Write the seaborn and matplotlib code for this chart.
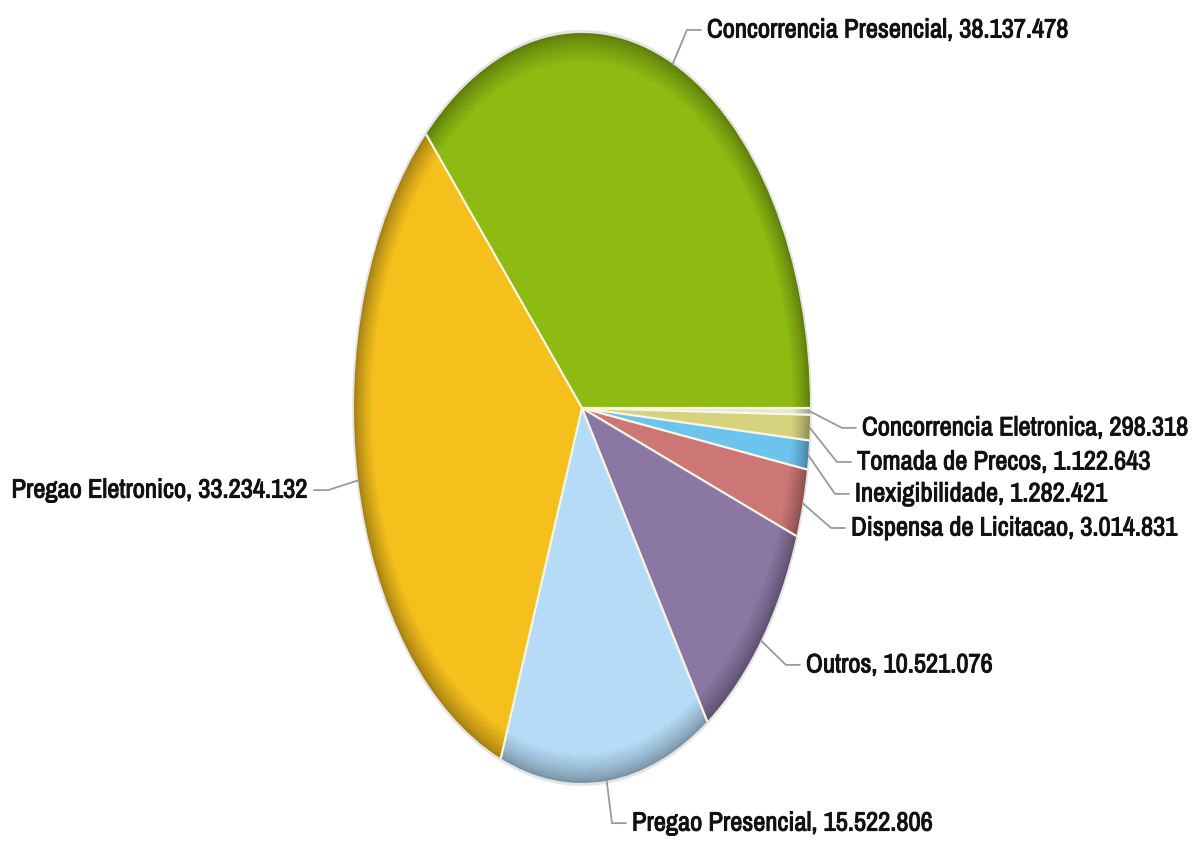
import numpy as np
import seaborn as sns
import matplotlib.pyplot as plt
import matplotlib.patheffects as pe
from matplotlib import font_manager as fm
from matplotlib.colors import to_rgb

# Data (counterclockwise from 3 o'clock)
categories = [
    "Concorrencia Presencial",
    "Pregao Eletronico",
    "Pregao Presencial",
    "Outros",
    "Dispensa de Licitacao",
    "Inexigibilidade",
    "Tomada de Precos",
    "Concorrencia Eletronica",
]
values = [38137478, 33234132, 15522806, 10521076, 3014831, 1282421, 1122643, 298318]
colors = ["#8DBB12", "#F5BF1C", "#B5DBF7", "#8B77A3", "#CC7676", "#6CC3EE", "#D6D27E", "#E2EAD2"]

# label text anchors (x in horizontal radii, y in vertical radii) and alignment
label_pos = [
    (0.548, 1.008, "left"),
    (-1.202, -0.219, "right"),
    (0.219, -1.107, "left"),
    (0.982, -0.685, "left"),
    (1.180, -0.320, "left"),
    (1.197, -0.229, "left"),
    (1.206, -0.144, "left"),
    (1.228, -0.053, "left"),
]


def fmt(v):
    return f"{v:,}".replace(",", ".")


# pick a narrow sans font if one is there
available = {f.name for f in fm.fontManager.ttflist}
font = "Liberation Sans"
for cand in ["Liberation Sans Narrow", "Arial Narrow", "Archivo Narrow", "Roboto Condensed"]:
    if cand in available:
        font = cand
        break

sns.set_theme(style="white")
plt.rcParams["font.family"] = [font, "DejaVu Sans"]

fig = plt.figure(figsize=(12.01, 8.42), dpi=100)
ax = fig.add_axes([0, 0, 1, 1])
dx_px = 228.0
ax.set_xlim(-582 / dx_px, (1201 - 582) / dx_px)
ax.set_ylim(-(842 - 408) / 375, 408 / 375)

# faint shadow
ax.pie(values, radius=1.008, startangle=0, counterclock=True,
       colors=["#e4e4e4"] * len(values), wedgeprops=dict(linewidth=0))

# shaded rim: layers from dark outer edge to main colour
n_layers = 12
wedges = None
for i in range(n_layers):
    r = 1.0 - i * 0.007
    k = 0.68 + 0.32 * (i / (n_layers - 1)) ** 0.8
    layer_cols = [tuple(c * k for c in to_rgb(col)) for col in colors]
    wedges, _ = ax.pie(values, radius=r, startangle=0, counterclock=True,
                       colors=layer_cols, wedgeprops=dict(linewidth=0))

# separators between slices
for w in wedges:
    t = np.deg2rad(w.theta1)
    ax.plot([0, np.cos(t)], [0, np.sin(t)], color="#FBF6E6", lw=1.6, solid_capstyle="butt")

# font size so the top label is ~361 px wide like the reference
probe = fig.text(0, 0, f"{categories[0]}, {fmt(values[0])}", fontsize=20)
fig.canvas.draw()
w_px = probe.get_window_extent().width
probe.remove()
fsize = 20 * 361 / w_px

# labels with leader lines
for w, name, val, (tx, ty, ha) in zip(wedges, categories, values, label_pos):
    mid = np.deg2rad((w.theta1 + w.theta2) / 2)
    ex, ey = np.cos(mid), np.sin(mid)
    sgn = 1 if ha == "left" else -1
    elbow_x = tx - sgn * 20 / dx_px
    end_x = tx - sgn * 6 / dx_px
    ax.plot([ex, elbow_x, end_x], [ey, ty, ty], color="#9a9a9a", lw=1.3)
    ax.text(tx, ty, f"{name}, {fmt(val)}", ha=ha, va="center",
            fontsize=fsize, color="#111111",
            path_effects=[pe.withStroke(linewidth=0.7, foreground="#111111")])

ax.set_aspect("auto")
ax.set_xlim(-582 / dx_px, (1201 - 582) / dx_px)
ax.set_ylim(-(842 - 408) / 375, 408 / 375)
ax.axis("off")

fig.savefig("out.png", dpi=100)
